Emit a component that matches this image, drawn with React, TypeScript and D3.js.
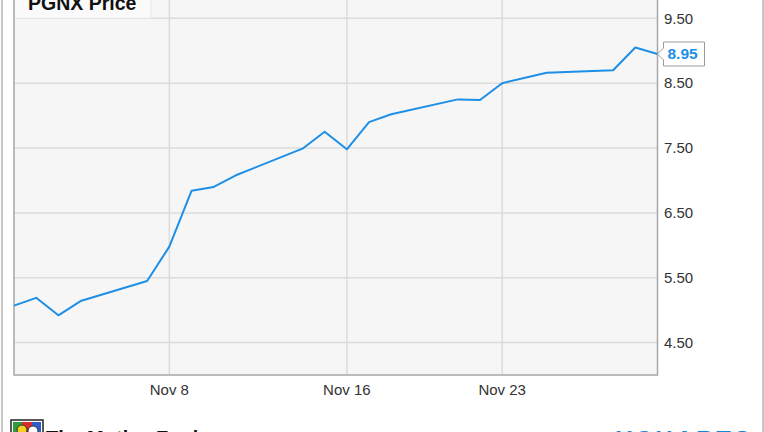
import React from "react";
import * as d3 from "d3";

const dates: string[] = [
  "2016-11-01", "2016-11-02", "2016-11-03", "2016-11-04", "2016-11-07",
  "2016-11-08", "2016-11-09", "2016-11-10", "2016-11-11", "2016-11-14",
  "2016-11-15", "2016-11-16", "2016-11-17", "2016-11-18", "2016-11-21",
  "2016-11-22", "2016-11-23", "2016-11-25", "2016-11-28", "2016-11-29",
  "2016-11-30",
];
const prices: number[] = [
  5.07, 5.19, 4.92, 5.14, 5.45,
  5.98, 6.84, 6.9, 7.08, 7.49,
  7.75, 7.48, 7.9, 8.02, 8.25,
  8.24, 8.5, 8.66, 8.7, 9.05,
  8.95,
];
const yTicks: number[] = [4.5, 5.5, 6.5, 7.5, 8.5, 9.5];
const xTickDates: string[] = ["2016-11-08", "2016-11-16", "2016-11-23"];
const xTickLabels: string[] = ["Nov 8", "Nov 16", "Nov 23"];
const seriesName = "PGNX Price";
const lastLabel = "8.95";

const W = 764;
const H = 432;
const FONT = "'Liberation Sans', Arial, sans-serif";
const BLUE = "#1e8fe6";

export default function App() {
  const parse = d3.timeParse("%Y-%m-%d");
  const data = dates.map((d, i) => ({ date: parse(d) as Date, v: prices[i] }));
  const left = 14;
  const right = 657.5;
  const bottom = 375;
  const top = -14.1;
  const x = d3
    .scaleTime()
    .domain([parse("2016-11-01") as Date, parse("2016-11-30") as Date])
    .range([left, right]);
  const y = d3.scaleLinear().domain([4, 10]).range([bottom, top]);
  const line = d3
    .line<{ date: Date; v: number }>()
    .x((d) => x(d.date))
    .y((d) => y(d.v));
  const last = data[data.length - 1];
  const lx = x(last.date);
  const ly = y(last.v);

  return (
    <svg
      width={W}
      height={H}
      style={{ position: "absolute", left: 0, top: 0, display: "block", background: "#fff" }}
    >
      {/* outer frame */}
      <rect x={2} y={-20} width={761} height={480} fill="#fff" stroke="#b5b5b5" strokeWidth={1.5} />
      {/* plot background */}
      <rect x={left} y={top} width={right - left} height={bottom - top} fill="#f6f6f6" />
      {/* grid */}
      {yTicks.map((t) => (
        <line key={"gy" + t} x1={left} x2={right} y1={y(t)} y2={y(t)} stroke="#dcdcdc" strokeWidth={1.5} />
      ))}
      {xTickDates.map((d) => {
        const xx = x(parse(d) as Date);
        return <line key={"gx" + d} x1={xx} x2={xx} y1={top} y2={bottom} stroke="#dcdcdc" strokeWidth={1.5} />;
      })}
      {/* legend box */}
      <rect x={left} y={top} width={137} height={18.3 - top} fill="#fafafa" stroke="#e6e6e6" strokeWidth={1} />
      <text x={28} y={9.5} fontFamily={FONT} fontWeight="bold" fontSize={19.5} fill="#111">
        {seriesName}
      </text>
      {/* plot borders */}
      <path
        d={`M${left},${top} V${bottom} H${right} V${top}`}
        fill="none"
        stroke="#a8a8a8"
        strokeWidth={1.5}
      />
      {/* series line */}
      <path d={line(data) || ""} fill="none" stroke={BLUE} strokeWidth={2} strokeLinejoin="round" />
      {/* y labels */}
      {yTicks.map((t) => (
        <text
          key={"yl" + t}
          x={664}
          y={y(t) + 5.3}
          fontFamily={FONT}
          fontSize={15}
          fill="#333"
        >
          {d3.format(".2f")(t)}
        </text>
      ))}
      {/* x labels */}
      {xTickDates.map((d, i) => (
        <text
          key={"xl" + d}
          x={x(parse(d) as Date)}
          y={395}
          textAnchor="middle"
          fontFamily={FONT}
          fontSize={15}
          fill="#333"
        >
          {xTickLabels[i]}
        </text>
      ))}
      {/* last value callout */}
      <path
        d={`M${lx},${ly} L${lx + 6},${ly - 6} V${ly - 12} H${lx + 47} V${ly + 12} H${lx + 6} V${ly + 6} Z`}
        fill="#fff"
        stroke="#9a9a9a"
        strokeWidth={1}
      />
      <text x={lx + 10} y={ly + 5.5} fontFamily={FONT} fontWeight="bold" fontSize={15.5} fill={BLUE}>
        {lastLabel}
      </text>
      {/* Motley Fool logo (cropped) */}
      <g>
        <rect x={11} y={420} width={32} height={20} fill="#fff" stroke="#222" strokeWidth={1.5} />
        <rect x={13} y={422} width={9} height={14} fill="#2f9e3a" />
        <rect x={22} y={422} width={10} height={14} fill="#d92b2b" />
        <rect x={32} y={422} width={9} height={14} fill="#2c5fc9" />
        <circle cx={22} cy={430} r={5} fill="#f5d020" stroke="#333" strokeWidth={1} />
        <circle cx={33} cy={431} r={5} fill="#fff" stroke="#333" strokeWidth={1} />
        <text x={46} y={444.5} fontFamily={FONT} fontWeight="bold" fontSize={20} fill="#111">
          The Motley Fool
        </text>
      </g>
      {/* YCHARTS (cropped) */}
      <text x={616} y={448} fontFamily={FONT} fontWeight="bold" fontSize={24} fill="#1a86d9" letterSpacing={3}>
        YCHARTS
      </text>
    </svg>
  );
}
